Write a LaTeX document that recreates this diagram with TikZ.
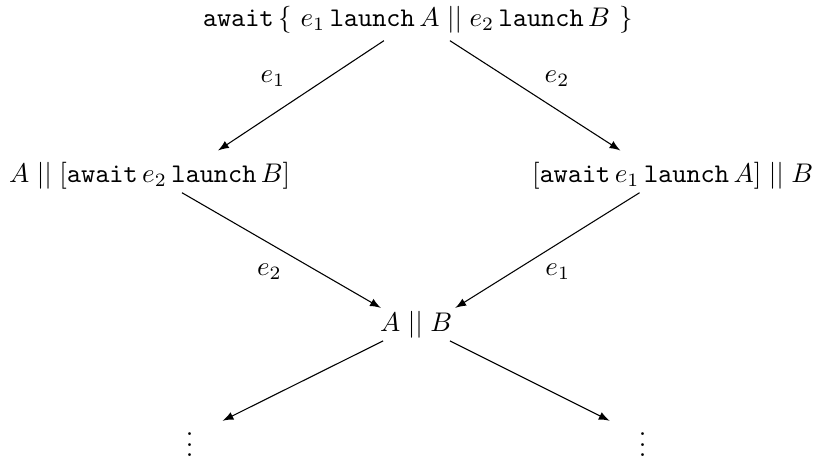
\documentclass[tikz,border=0pt]{standalone}
\usepackage{amsmath}
\usetikzlibrary{arrows,positioning}

\newcommand{\kw}[1]{\mathtt{#1}}

\begin{document}
\begin{tikzpicture}[>=latex]
\useasboundingbox (0,0) rectangle (10.68,-5.98);

\node (top) at (5.44,-0.35) [anchor=base] {$\kw{await}\,\{\ e_1\,\kw{launch}\,A \mathrel{||} e_2\,\kw{launch}\,B\ \}$};
\node (l1) at (1.95,-2.38) [anchor=base] {$A \mathrel{||} [\kw{await}\,e_2\,\kw{launch}\,B]$};
\node (r1) at (8.76,-2.38) [anchor=base] {$[\kw{await}\,e_1\,\kw{launch}\,A] \mathrel{||} B$};
\node (m2) at (5.42,-4.32) [anchor=base] {$A \mathrel{||} B$};
\node (l3) at (2.47,-5.95) [anchor=base] {$\vdots$};
\node (r3) at (8.37,-5.95) [anchor=base] {$\vdots$};

\draw[->] ([shift={(-0.44,-0.18)}]top.base) -- node [above left,xshift=-0.08cm] {$e_1$} ([shift={(0.89,0.42)}]l1.base);
\draw[->] ([shift={(0.42,-0.18)}]top.base) -- node [above right] {$e_2$} ([shift={(-0.68,0.42)}]r1.base);
\draw[->] ([shift={(0.42,-0.13)}]l1.base) -- node [below left,xshift=0.13cm,yshift=-0.05cm] {$e_2$} ([shift={(-0.46,0.31)}]m2.base);
\draw[->] ([shift={(-0.43,-0.13)}]r1.base) -- node [below right,xshift=-0.15cm,yshift=-0.05cm] {$e_1$} ([shift={(0.51,0.31)}]m2.base);
\draw[->] ([shift={(-0.43,-0.12)}]m2.base) -- ([shift={(0.43,0.47)}]l3.base);
\draw[->] ([shift={(0.44,-0.12)}]m2.base) -- ([shift={(-0.43,0.47)}]r3.base);
\end{tikzpicture}
\end{document}
